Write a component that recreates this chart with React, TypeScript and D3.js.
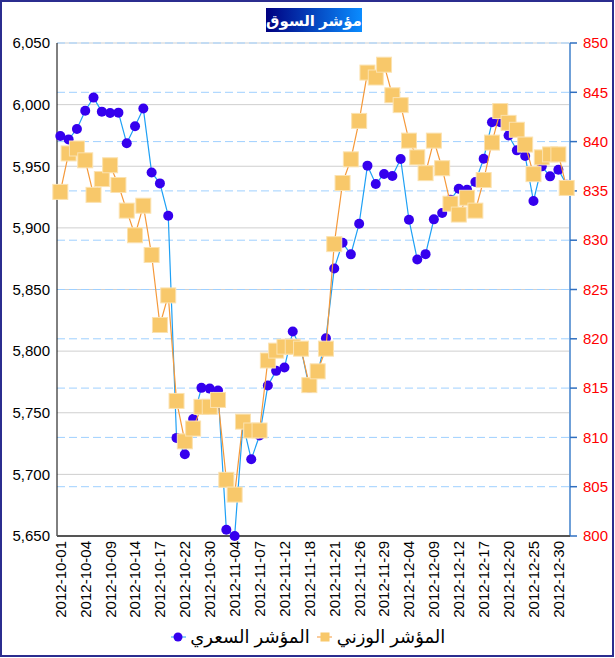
import * as React from 'react';
import * as d3 from 'd3';

const dates = [
    '2012-10-01', '2012-10-02', '2012-10-03', '2012-10-04', '2012-10-07', '2012-10-08', '2012-10-09', '2012-10-10',
    '2012-10-11', '2012-10-14', '2012-10-15', '2012-10-16', '2012-10-17', '2012-10-18', '2012-10-21', '2012-10-22',
    '2012-10-23', '2012-10-24', '2012-10-30', '2012-10-31', '2012-11-01', '2012-11-04', '2012-11-05', '2012-11-06',
    '2012-11-07', '2012-11-08', '2012-11-11', '2012-11-12', '2012-11-13', '2012-11-14', '2012-11-18', '2012-11-19',
    '2012-11-20', '2012-11-21', '2012-11-22', '2012-11-25', '2012-11-26', '2012-11-27', '2012-11-28', '2012-11-29',
    '2012-12-02', '2012-12-03', '2012-12-04', '2012-12-05', '2012-12-06', '2012-12-09', '2012-12-10', '2012-12-11',
    '2012-12-12', '2012-12-13', '2012-12-16', '2012-12-17', '2012-12-18', '2012-12-19', '2012-12-20', '2012-12-23',
    '2012-12-24', '2012-12-25', '2012-12-26', '2012-12-27', '2012-12-30', '2012-12-31'
];

// المؤشر السعري (left axis)
const priceIndex = [
    5974.6, 5971.8, 5980.2, 5995.1, 6005.7, 5994.3, 5993.2, 5993.5, 5968.6, 5982.4,
    5996.8, 5945.0, 5936.1, 5909.9, 5729.6, 5716.3, 5745.0, 5770.2, 5769.6, 5768.0,
    5655.1, 5650.0, 5741.0, 5712.2, 5731.5, 5772.1, 5784.0, 5786.7, 5815.9, 5802.0,
    5770.0, 5782.0, 5810.5, 5867.1, 5887.9, 5878.5, 5903.4, 5950.5, 5935.6, 5943.7,
    5942.1, 5955.9, 5906.6, 5874.4, 5878.7, 5906.9, 5912.0, 5922.8, 5931.8, 5931.0,
    5937.2, 5956.1, 5985.7, 5985.7, 5975.0, 5962.9, 5958.3, 5921.8, 5949.9, 5941.8,
    5947.2, 5935.0
];

// المؤشر الوزني (right axis)
const weightedIndex = [
    834.9, 838.8, 839.3, 838.1, 834.6, 836.2, 837.6, 835.6, 833.0, 830.5,
    833.5, 828.5, 821.4, 824.4, 813.7, 809.6, 810.9, 813.1, 813.1, 813.8,
    805.7, 804.2, 811.6, 810.7, 810.7, 817.8, 818.8, 819.2, 819.2, 819.0,
    815.3, 816.7, 819.0, 829.6, 835.8, 838.2, 842.1, 847.0, 846.5, 847.8,
    844.7, 843.7, 840.1, 838.4, 836.8, 840.1, 837.3, 833.7, 832.6, 834.3,
    833.0, 836.1, 839.9, 843.1, 841.9, 841.2, 839.7, 836.7, 838.4, 838.7,
    838.7, 835.3
];

const leftTicks = [5650, 5700, 5750, 5800, 5850, 5900, 5950, 6000, 6050];
const rightTicks = [800, 805, 810, 815, 820, 825, 830, 835, 840, 845, 850];

const titleText = 'مؤشر السوق';
const priceLabel = 'المؤشر السعري';
const weightedLabel = 'المؤشر الوزني';

const W = 615;
const H = 658;
const plot = { left: 57, right: 570, top: 43, bottom: 536 };
const font = '"Liberation Sans", Arial, "DejaVu Sans", sans-serif';

class MarketChart extends React.Component<object, object> {
    private node: SVGSVGElement | null = null;

    render() {
        return <svg
            ref={node => { this.node = node; }}
            width={W}
            height={H}
            style={{ position: 'absolute', left: 0, top: 0, background: '#fff' }}>
        </svg>;
    }

    componentDidMount() {
        this.draw();
    }

    private draw() {
        const svg = d3.select(this.node);
        svg.selectAll('*').remove();

        const x = d3.scalePoint<number>()
            .domain(dates.map((_, i) => i))
            .range([plot.left, plot.right])
            .padding(0.4);
        const yL = d3.scaleLinear().domain([5650, 6050]).range([plot.bottom, plot.top]);
        const yR = d3.scaleLinear().domain([800, 850]).range([plot.bottom, plot.top]);

        const defs = svg.append('defs');
        const grad = defs.append('linearGradient').attr('id', 'titleGrad')
            .attr('x1', '0%').attr('x2', '100%').attr('y1', '0%').attr('y2', '0%');
        grad.append('stop').attr('offset', '0%').attr('stop-color', '#000080');
        grad.append('stop').attr('offset', '100%').attr('stop-color', '#0a8cff');

        // outer frame
        svg.append('rect')
            .attr('x', 1).attr('y', 1).attr('width', W - 3).attr('height', H - 3)
            .attr('fill', '#fff').attr('stroke', '#2b2d8f').attr('stroke-width', 2);

        // title
        svg.append('rect')
            .attr('x', 266).attr('y', 8).attr('width', 96).attr('height', 24)
            .attr('fill', 'url(#titleGrad)');
        svg.append('text')
            .attr('x', 314).attr('y', 26)
            .attr('text-anchor', 'middle')
            .attr('fill', '#fff').attr('font-weight', 'bold')
            .attr('font-size', 15).attr('font-family', font)
            .text(titleText);

        // grid
        svg.append('g').selectAll('line').data(leftTicks).join('line')
            .attr('x1', plot.left).attr('x2', plot.right)
            .attr('y1', d => yL(d)).attr('y2', d => yL(d))
            .attr('stroke', '#cfcfcf').attr('stroke-width', 1);
        svg.append('g').selectAll('line').data(rightTicks).join('line')
            .attr('x1', plot.left).attr('x2', plot.right)
            .attr('y1', d => yR(d)).attr('y2', d => yR(d))
            .attr('stroke', '#9fd0ff').attr('stroke-width', 1)
            .attr('stroke-dasharray', '8,4');

        // left axis
        svg.append('line')
            .attr('x1', plot.left).attr('x2', plot.left)
            .attr('y1', plot.top).attr('y2', plot.bottom)
            .attr('stroke', '#000');
        svg.append('g').selectAll('text').data(leftTicks).join('text')
            .attr('x', 50).attr('y', d => yL(d)).attr('dy', '0.35em')
            .attr('text-anchor', 'end')
            .attr('font-size', 15).attr('font-family', font).attr('fill', '#000')
            .text(d => d3.format(',')(d));

        // right axis
        svg.append('line')
            .attr('x1', plot.right).attr('x2', plot.right)
            .attr('y1', plot.top).attr('y2', plot.bottom)
            .attr('stroke', '#6fa0d8').attr('stroke-width', 2);
        svg.append('g').selectAll('line').data(rightTicks).join('line')
            .attr('x1', plot.right).attr('x2', plot.right + 7)
            .attr('y1', d => yR(d)).attr('y2', d => yR(d))
            .attr('stroke', '#2f6fc0').attr('stroke-width', 1.5);
        svg.append('g').selectAll('text').data(rightTicks).join('text')
            .attr('x', 583).attr('y', d => yR(d)).attr('dy', '0.35em')
            .attr('font-size', 15).attr('font-family', font).attr('fill', '#ff0000')
            .text(d => d);

        // bottom axis
        svg.append('line')
            .attr('x1', plot.left).attr('x2', plot.right)
            .attr('y1', plot.bottom).attr('y2', plot.bottom)
            .attr('stroke', '#555').attr('stroke-width', 2);
        const tickIdx = dates.map((_, i) => i).filter(i => i % 3 === 0);
        svg.append('g').selectAll('text').data(tickIdx).join('text')
            .attr('transform', i => `translate(${x(i)},${plot.bottom + 5}) rotate(-90)`)
            .attr('dy', '0.36em')
            .attr('text-anchor', 'end')
            .attr('font-size', 15).attr('font-family', font).attr('fill', '#000')
            .text(i => dates[i]);

        // price series
        svg.append('path')
            .datum(priceIndex)
            .attr('fill', 'none').attr('stroke', '#1ea0f5').attr('stroke-width', 1.2)
            .attr('d', d3.line<number>().x((_, i) => x(i) as number).y(d => yL(d)));
        svg.append('g').selectAll('circle').data(priceIndex).join('circle')
            .attr('cx', (_, i) => x(i) as number).attr('cy', d => yL(d))
            .attr('r', 5).attr('fill', '#3500ee');

        // weighted series
        svg.append('path')
            .datum(weightedIndex)
            .attr('fill', 'none').attr('stroke', '#f5993a').attr('stroke-width', 1.2)
            .attr('d', d3.line<number>().x((_, i) => x(i) as number).y(d => yR(d)));
        const s = 15;
        svg.append('g').selectAll('rect').data(weightedIndex).join('rect')
            .attr('x', (_, i) => (x(i) as number) - s / 2).attr('y', d => yR(d) - s / 2)
            .attr('width', s).attr('height', s)
            .attr('fill', '#f8c86a').attr('stroke', '#fbe2b0').attr('stroke-width', 1);

        // legend
        const ly = 637;
        const lg = svg.append('g');
        lg.append('line').attr('x1', 171).attr('x2', 186).attr('y1', ly).attr('y2', ly)
            .attr('stroke', '#1ea0f5');
        lg.append('circle').attr('cx', 178).attr('cy', ly).attr('r', 4.5).attr('fill', '#3500ee');
        lg.append('text').attr('x', 250).attr('y', ly).attr('dy', '0.35em')
            .attr('text-anchor', 'middle')
            .attr('font-size', 18).attr('font-family', font).attr('fill', '#000')
            .text(priceLabel);
        lg.append('line').attr('x1', 317).attr('x2', 332).attr('y1', ly).attr('y2', ly)
            .attr('stroke', '#f5993a');
        lg.append('rect').attr('x', 320.5).attr('y', ly - 4.5).attr('width', 9).attr('height', 9)
            .attr('fill', '#f8c86a');
        lg.append('text').attr('x', 391).attr('y', ly).attr('dy', '0.35em')
            .attr('text-anchor', 'middle')
            .attr('font-size', 18).attr('font-family', font).attr('fill', '#000')
            .text(weightedLabel);
    }
}

export default function App() {
    return <MarketChart />;
}
